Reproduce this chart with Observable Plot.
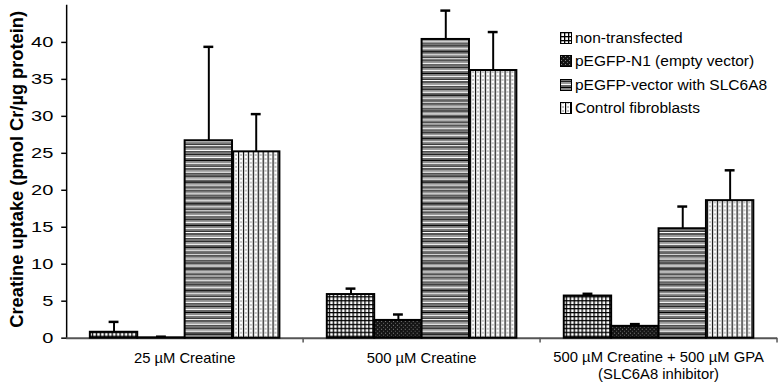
<!DOCTYPE html>
<html>
<head>
<meta charset="utf-8">
<script src="https://cdn.jsdelivr.net/npm/d3@7"></script>
<script src="https://cdn.jsdelivr.net/npm/@observablehq/plot@0.6"></script>
<style>
  html, body { margin: 0; padding: 0; background: #fff; overflow: hidden; }
  #wrap { position: relative; width: 780px; height: 392px; overflow: hidden; font-family: "Liberation Sans", Arial, sans-serif; }
  #legend { position: absolute; left: 560px; top: 26px; font-size: 15.5px; color: #000; }
  #legend .row { display: flex; align-items: center; height: 23.5px; white-space: nowrap; }
  #legend svg { margin-right: 3px; }
</style>
</head>
<body>
<div id="wrap"><div id="chart"></div><div id="legend"></div></div>
<script>
// ---- data ----
const groups = ["25 µM Creatine", "500 µM Creatine", "500 µM Creatine + 500 µM GPA\n(SLC6A8 inhibitor)"];
const series = ["non-transfected", "pEGFP-N1 (empty vector)", "pEGFP-vector with SLC6A8", "Control fibroblasts"];
const nonTransfected      = [0.8, 5.9, 5.7];
const nonTransfectedUpper = [2.2, 6.7, 6.0];
const emptyVector         = [0.05, 2.4, 1.6];
const emptyVectorUpper    = [0.2, 3.2, 1.9];
const slc6a8              = [26.7, 40.4, 14.8];
const slc6a8Upper         = [39.4, 44.3, 17.8];
const control             = [25.2, 36.2, 18.6];
const controlUpper        = [30.3, 41.4, 22.7];
const yTicks = [0, 5, 10, 15, 20, 25, 30, 35, 40];
const yLabel = "Creatine uptake (pmol Cr/µg protein)";

const values = [nonTransfected, emptyVector, slc6a8, control];
const uppers = [nonTransfectedUpper, emptyVectorUpper, slc6a8Upper, controlUpper];
const data = [];
groups.forEach((g, gi) => series.forEach((s, si) => data.push({group: g, series: s, value: values[si][gi], upper: uppers[si][gi]})));
const patternIds = ["pat0", "pat1", "pat2", "pat3"];
const fillOf = s => `url(#${patternIds[series.indexOf(s)]})`;

const svg = Plot.plot({
  width: 790,
  height: 392,
  marginLeft: 66,
  marginRight: 3,
  marginTop: 5,
  marginBottom: 50,
  style: {fontFamily: "'Liberation Sans', Arial, sans-serif", fontSize: "15px", color: "#000", background: "transparent"},
  fx: {domain: groups, padding: 0, axis: "bottom", label: null, tickSize: 0, tickPadding: 15, tickFormat: () => ""},
  x: {domain: series, paddingInner: 0, paddingOuter: 0.485, axis: null},
  y: {domain: [0, 45], ticks: yTicks, tickSize: 5, tickPadding: 7, tickFormat: () => "", line: true, label: null},
  color: {type: "identity"},
  marks: [
    Plot.ruleY([0], {stroke: "#555", strokeWidth: 2}),
    Plot.barY(data, {fx: "group", x: "series", y: "value", fill: d => fillOf(d.series), stroke: "#000", strokeWidth: 2}),
    Plot.ruleX(data, {fx: "group", x: "series", y1: "value", y2: "upper", stroke: "#000", strokeWidth: 2}),
    Plot.tickY(data, {fx: "group", x: "series", y: "upper", stroke: "#000", strokeWidth: 2.5, insetLeft: 19, insetRight: 19})
  ]
});

// pattern definitions
const sel = d3.select(svg);
const defs = sel.insert("defs", ":first-child");
// grid (non-transfected)
let p = defs.append("pattern").attr("id", "pat0").attr("patternUnits", "userSpaceOnUse").attr("width", 4).attr("height", 4);
p.append("rect").attr("width", 4).attr("height", 4).attr("fill", "#fff");
p.append("rect").attr("width", 1.3).attr("height", 4).attr("fill", "#000");
p.append("rect").attr("width", 4).attr("height", 1.3).attr("fill", "#000");
// dark dotted (empty vector)
p = defs.append("pattern").attr("id", "pat1").attr("patternUnits", "userSpaceOnUse").attr("width", 4).attr("height", 4);
p.append("rect").attr("width", 4).attr("height", 4).attr("fill", "#141414");
p.append("rect").attr("x", 1).attr("y", 1).attr("width", 1).attr("height", 1).attr("fill", "#888");
p.append("rect").attr("x", 3).attr("y", 3).attr("width", 1).attr("height", 1).attr("fill", "#666");
// horizontal stripes (SLC6A8)
p = defs.append("pattern").attr("id", "pat2").attr("patternUnits", "userSpaceOnUse").attr("width", 10).attr("height", 22);
[["#777",0,2],["#222",2,1],["#999",3,2],["#fff",5,1],["#666",6,2],["#000",8,1],["#888",9,2],["#eee",11,1],["#777",12,2],["#333",14,1],["#fff",15,1],["#555",16,2],["#999",18,2],["#fff",20,1],["#444",21,1]]
  .forEach(([c, y, h]) => p.append("rect").attr("x", 0).attr("y", y).attr("width", 10).attr("height", h).attr("fill", c));
// vertical lines (control)
p = defs.append("pattern").attr("id", "pat3").attr("patternUnits", "userSpaceOnUse").attr("width", 5).attr("height", 4);
p.append("rect").attr("width", 5).attr("height", 4).attr("fill", "#fff");
p.append("rect").attr("x", 0).attr("width", 1.2).attr("height", 4).attr("fill", "#000");
p.append("rect").attr("x", 2.6).attr("width", 0.9).attr("height", 2).attr("fill", "#777");

sel.selectAll('g[aria-label="y-axis tick"]').attr("stroke-width", 1.5);
sel.selectAll('g[aria-label="frame"]').attr("stroke-width", 1.5);

const fx = svg.scale("fx"), yS = svg.scale("y");
const y0 = yS.apply(0);

// y tick labels (wide digits as in the reference), placed by the y scale
sel.append("g").attr("font-size", 14).attr("text-anchor", "end")
  .selectAll("text").data(yTicks).join("text")
  .attr("transform", t => `translate(54,${yS.apply(t)}) scale(1.45,1)`)
  .attr("dy", "0.36em")
  .text(t => String(t));

// group labels, centred on each fx band, multi-line with 17px line spacing
const gl = sel.append("g").attr("font-size", 15).attr("text-anchor", "middle")
  .selectAll("text").data(groups).join("text")
  .attr("transform", g => `translate(${fx.apply(g) + fx.bandwidth / 2},${y0 + 25})`);
gl.selectAll("tspan").data(g => g.split("\n")).join("tspan")
  .attr("x", 0).attr("y", (d, i) => i * 17 + (i === 0 ? 0 : 0))
  .text(d => d);
gl.filter(g => !g.includes("\n")).attr("transform", g => `translate(${fx.apply(g) + fx.bandwidth / 2},${y0 + 26})`);

// group boundary ticks from the fx scale
const bounds = groups.map(g => fx.apply(g)).concat([fx.apply(groups[groups.length - 1]) + fx.bandwidth]);
sel.append("g").attr("stroke", "#555").attr("stroke-width", 1.5)
  .selectAll("line").data(bounds.slice(1)).join("line")
  .attr("x1", d => d).attr("x2", d => d).attr("y1", y0).attr("y2", y0 + 5);

// y axis title
sel.append("text")
  .attr("transform", `translate(17,${(yS.apply(0) + yS.apply(45)) / 2 - 2}) rotate(-90)`)
  .attr("text-anchor", "middle").attr("dominant-baseline", "central")
  .attr("font-weight", "bold").attr("font-size", 18.5)
  .text(yLabel);

document.getElementById("chart").appendChild(svg);

// legend
const legend = d3.select("#legend");
series.forEach((s, i) => {
  const row = legend.append("div").attr("class", "row");
  const sw = row.append("svg").attr("width", 12).attr("height", 12);
  sw.append("rect").attr("x", 0.5).attr("y", 0.5).attr("width", 11).attr("height", 11).attr("fill", fillOf(s)).attr("stroke", "#000").attr("stroke-width", 1);
  row.append("span").text(s);
});
</script>
</body>
</html>
